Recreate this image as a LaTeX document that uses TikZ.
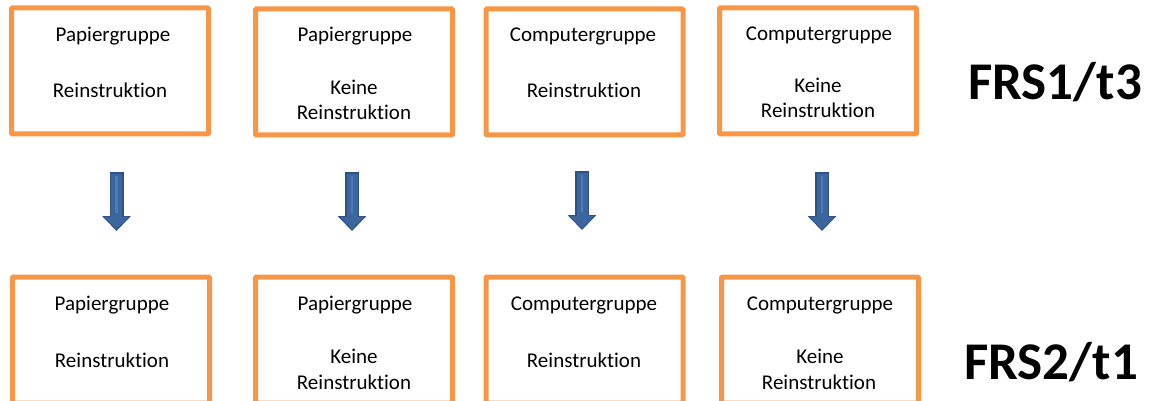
\documentclass[tikz,border=0pt]{standalone}
\usepackage{fontspec}
\setmainfont[Ligatures={NoCommon,NoRare,NoContextual}]{Carlito}
\usetikzlibrary{arrows.meta}

\definecolor{boxorange}{HTML}{F79646}
\definecolor{arrowblue}{HTML}{3C679E}
\definecolor{arrowdark}{HTML}{2E5286}
\definecolor{arrowlight}{HTML}{4C7DB9}

\tikzset{
  grp/.style={draw=boxorange, line width=5pt, rounded corners=1pt,
    minimum width=197pt, minimum height=126pt, inner sep=0pt},
  lbl/.style={anchor=base, inner sep=0pt, font=\fontsize{21}{25}\selectfont},
  frs/.style={anchor=base, inner sep=0pt, font=\fontsize{53}{60}\selectfont\bfseries},
  downout/.style={line width=14pt, arrowdark, -{Triangle[width=28pt,length=15pt]}},
  downin/.style={line width=11pt, arrowblue, -{Triangle[width=24pt,length=12.5pt]},
    shorten <=1.5pt, shorten >=1.7pt},
  stripe/.style={line width=2.5pt, arrowlight, shorten <=4pt, shorten >=18pt},
}

\begin{document}
\begin{tikzpicture}[x=1pt,y=-1pt]
\useasboundingbox (0,0) rectangle (1151,401);
\clip (0,0) rectangle (1151,401);

% top row
\node[grp] (t1) at (110,71) {};
\node[grp] (t2) at (354,72) {};
\node[grp] (t3) at (584.5,72) {};
\node[grp] (t4) at (818,71) {};
\node[lbl] (t1a) at (113,42) {Papiergruppe};
\node[lbl] (t1b) at (110,98) {Reinstruktion};
\node[lbl] (t2a) at (355,42) {Papiergruppe};
\node[lbl] (t2b) at (354,95) {Keine};
\node[lbl] (t2c) at (354,120) {Reinstruktion};
\node[lbl] (t3a) at (583,42) {Computergruppe};
\node[lbl] (t3b) at (584,98) {Reinstruktion};
\node[lbl] (t4a) at (819,41) {Computergruppe};
\node[lbl] (t4b) at (818,93) {Keine};
\node[lbl] (t4c) at (818,118) {Reinstruktion};
\node[frs] (frs1) at (1055,100) {FRS1/t3};

% bottom row
\node[grp] (b1) at (111,340) {};
\node[grp] (b2) at (354,340) {};
\node[grp] (b3) at (584.5,340) {};
\node[grp] (b4) at (820,340) {};
\node[lbl] (b1a) at (112,310) {Papiergruppe};
\node[lbl] (b1b) at (112,367) {Reinstruktion};
\node[lbl] (b2a) at (355,310) {Papiergruppe};
\node[lbl] (b2b) at (354,363) {Keine};
\node[lbl] (b2c) at (354,389) {Reinstruktion};
\node[lbl] (b3a) at (584,310) {Computergruppe};
\node[lbl] (b3b) at (584,367) {Reinstruktion};
\node[lbl] (b4a) at (820,310) {Computergruppe};
\node[lbl] (b4b) at (820,363) {Keine};
\node[lbl] (b4c) at (819,389) {Reinstruktion};
\node[frs] (frs2) at (1051,379) {FRS2/t1};

% arrows
\coordinate (a1) at (116.5,172);
\coordinate (z1) at (116.5,231);
\coordinate (a2) at (352,172);
\coordinate (z2) at (352,231);
\coordinate (a3) at (582,171);
\coordinate (z3) at (582,230);
\coordinate (a4) at (822,172);
\coordinate (z4) at (822,231);

\draw[downout] (a1) -- (z1);
\draw[downin] (a1) -- (z1);
\draw[stripe] (a1) -- (z1);
\draw[downout] (a2) -- (z2);
\draw[downin] (a2) -- (z2);
\draw[stripe] (a2) -- (z2);
\draw[downout] (a3) -- (z3);
\draw[downin] (a3) -- (z3);
\draw[stripe] (a3) -- (z3);
\draw[downout] (a4) -- (z4);
\draw[downin] (a4) -- (z4);
\draw[stripe] (a4) -- (z4);
\end{tikzpicture}
\end{document}
